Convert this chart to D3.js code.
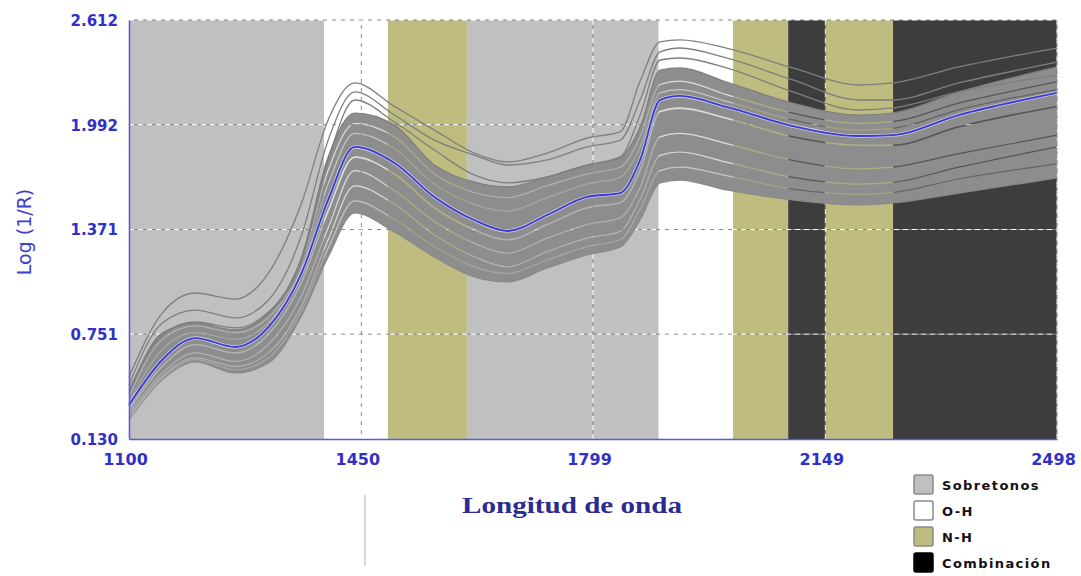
<!DOCTYPE html>
<html><head><meta charset="utf-8">
<script src="https://cdn.jsdelivr.net/npm/d3@7"></script>
<style>body{margin:0;background:#fff;} svg{display:block;}</style>
</head><body>
<svg id="chart" width="1081" height="576"></svg>
<script>
// ---------- data ----------
const wavelengths = [1100,1150,1200,1260,1310,1360,1400,1440,1500,1560,1620,1670,1730,1790,1840,1870,1900,1930,2000,2100,2200,2250,2350,2498];
const meanSpectrum = [0.331,0.598,0.728,0.675,0.793,1.113,1.546,1.860,1.765,1.564,1.427,1.362,1.457,1.564,1.587,1.783,2.138,2.162,2.097,1.984,1.925,1.930,2.049,2.180];
const bandUpper = [0.402,0.758,0.817,0.776,0.876,1.208,1.800,2.061,1.990,1.753,1.652,1.623,1.682,1.753,1.795,1.978,2.316,2.328,2.245,2.120,2.049,2.061,2.186,2.334];
const bandLower = [0.243,0.480,0.586,0.521,0.580,0.860,1.208,1.469,1.356,1.208,1.090,1.060,1.143,1.220,1.267,1.427,1.647,1.664,1.605,1.546,1.516,1.528,1.587,1.676];
const outlierA = [0.497,0.876,0.995,0.959,1.113,1.528,2.020,2.239,2.100,1.960,1.824,1.771,1.824,1.913,1.949,2.250,2.482,2.494,2.446,2.328,2.227,2.239,2.334,2.446];
const outlierB = [0.450,0.817,0.894,0.847,0.953,1.338,1.900,2.186,2.049,1.900,1.812,1.753,1.783,1.860,1.900,2.138,2.423,2.446,2.387,2.257,2.138,2.138,2.239,2.363];
const outlierC = [0.420,0.746,0.823,0.788,0.882,1.179,1.783,2.138,2.008,1.842,1.694,1.647,1.682,1.753,1.801,2.049,2.375,2.387,2.328,2.186,2.079,2.091,2.186,2.286];
const gap1 = [0.300,0.560,0.690,0.640,0.750,1.060,1.480,1.800,1.700,1.500,1.370,1.310,1.400,1.500,1.530,1.720,2.070,2.090,2.030,1.920,1.870,1.870,1.980,2.100];
const gap2 = [0.280,0.520,0.640,0.590,0.690,0.980,1.380,1.720,1.600,1.420,1.290,1.230,1.320,1.400,1.440,1.620,1.920,1.940,1.880,1.780,1.730,1.740,1.820,1.930];
const gap3 = [0.260,0.500,0.610,0.560,0.640,0.920,1.310,1.630,1.520,1.340,1.210,1.150,1.240,1.320,1.360,1.550,1.810,1.830,1.770,1.680,1.640,1.650,1.740,1.860];
const gap4 = [0.380,0.720,0.800,0.760,0.850,1.170,1.720,2.000,1.920,1.700,1.590,1.560,1.630,1.700,1.740,1.920,2.230,2.250,2.170,2.060,2.000,2.010,2.120,2.245];
const gap5 = [0.350,0.660,0.760,0.720,0.820,1.140,1.640,1.940,1.850,1.640,1.520,1.480,1.560,1.640,1.680,1.860,2.180,2.200,2.130,2.020,1.960,1.970,2.080,2.200];
const gap6 = [0.250,0.490,0.600,0.540,0.610,0.890,1.260,1.540,1.430,1.270,1.150,1.110,1.190,1.270,1.310,1.490,1.720,1.740,1.690,1.610,1.580,1.590,1.670,1.760];

const regionStart = [1100,1394,1490,1609,1898,2010,2093,2150,2251];
const regionEnd   = [1394,1490,1609,1898,2010,2093,2150,2251,2498];
const regionType  = ["Sobretonos","O-H","N-H","Sobretonos","O-H","N-H","Combinación","N-H","Combinación"];

const legendLabels = ["Sobretonos","O-H","N-H","Combinación"];
const xTicks = [1100,1450,1799,2149,2498];
const yTicks = [0.130,0.751,1.371,1.992,2.612];

// ---------- styles ----------
const regionFill = {"Sobretonos":"#c0c0c0","O-H":"#ffffff","N-H":"#bebc7f","Combinación":"#3d3d3d"};
const legendFill = {"Sobretonos":"#c0c0c0","O-H":"#ffffff","N-H":"#bebc7f","Combinación":"#000000"};
const blue = "#3a3ad2";

const svg = d3.select("#chart");
svg.append("rect").attr("width",1081).attr("height",576).attr("fill","#fff");

const L = 129, R = 1057, T = 20, B = 439;
const x = d3.scaleLinear().domain([1100,2498]).range([L,R]);
const y = d3.scaleLinear().domain([0.130,2.612]).range([B,T]);

// regions
svg.append("g").selectAll("rect").data(regionType).join("rect")
  .attr("x",(d,i)=>x(regionStart[i]))
  .attr("width",(d,i)=>x(regionEnd[i])-x(regionStart[i]))
  .attr("y",T).attr("height",B-T)
  .attr("fill",d=>regionFill[d]);

// grid
const grid = svg.append("g");
const hLines = yTicks.slice(1);
const vLines = xTicks.slice(1);
function dashed(sel){
  sel.clone().attr("stroke","#ffffff").attr("stroke-dasharray","5,4").attr("stroke-dashoffset",0);
  sel.attr("stroke","#8a8a8a").attr("stroke-dasharray","4,5").attr("stroke-dashoffset",-5);
}
hLines.forEach(v=>{
  const ln = grid.append("line").attr("x1",L).attr("x2",R).attr("y1",y(v)).attr("y2",y(v)).attr("stroke-width",1);
  dashed(ln);
});
vLines.forEach(v=>{
  const ln = grid.append("line").attr("x1",x(v)).attr("x2",x(v)).attr("y1",T).attr("y2",B).attr("stroke-width",1);
  dashed(ln);
});

// line / area generators
const line = d3.line().x((d,i)=>x(wavelengths[i])).y(d=>y(d)).curve(d3.curveMonotoneX);
const area = d3.area().x((d,i)=>x(wavelengths[i])).y0((d,i)=>y(bandLower[i])).y1(d=>y(d)).curve(d3.curveMonotoneX);

// mask for gaps in the dense band
const defs = svg.append("defs");
const mask = defs.append("mask").attr("id","gaps").attr("maskUnits","userSpaceOnUse")
  .attr("x",0).attr("y",0).attr("width",1081).attr("height",576);
mask.append("rect").attr("width",1081).attr("height",576).attr("fill","#fff");
[gap1,gap2,gap3,gap4,gap5,gap6].forEach((g,k)=>{
  mask.append("path").attr("d",line(g)).attr("fill","none")
    .attr("stroke","#000").attr("stroke-width",k===0?1.6:1.2).attr("stroke-opacity",k<4?0.7:0.5);
});

const bandG = svg.append("g").attr("mask","url(#gaps)");
bandG.append("path").attr("d",area(bandUpper)).attr("fill","#8d8d8d");
bandG.append("path").attr("d",line(bandUpper)).attr("fill","none").attr("stroke","#7e7e7e").attr("stroke-width",1.2);
bandG.append("path").attr("d",line(bandLower)).attr("fill","none").attr("stroke","#8a8a8a").attr("stroke-width",1.2);

// individual outlying spectra
[outlierA,outlierB,outlierC].forEach(s=>{
  svg.append("path").attr("d",line(s)).attr("fill","none").attr("stroke","#7f7f7f").attr("stroke-width",1.3);
});

// mean spectrum
svg.append("path").attr("d",line(meanSpectrum)).attr("fill","none").attr("stroke","#e8e8ff").attr("stroke-width",3.4).attr("stroke-opacity",0.7);
svg.append("path").attr("d",line(meanSpectrum)).attr("fill","none").attr("stroke",blue).attr("stroke-width",1.8);

// axes
const xAxis = d3.axisBottom(x).tickValues(xTicks).tickSize(0).tickFormat(d3.format("d"));
const yAxis = d3.axisLeft(y).tickValues(yTicks).tickSize(0).tickFormat(d3.format(".3f"));
const gx = svg.append("g").attr("transform",`translate(0,${B})`).call(xAxis);
const gy = svg.append("g").attr("transform",`translate(${L},0)`).call(yAxis);
gx.select(".domain").attr("stroke","#5a5ae0").attr("stroke-width",1.6);
gy.select(".domain").attr("stroke","#5a5ae0").attr("stroke-width",1.6);
gx.selectAll("text").attr("fill","#3030c8").attr("font-family","DejaVu Sans").attr("font-weight","bold")
  .attr("font-size","16px").attr("dy",null).attr("y",26).attr("dx",-4);
gy.selectAll("text").attr("fill","#3030c8").attr("font-family","DejaVu Sans").attr("font-weight","bold")
  .attr("font-size","15px").attr("x",-11).attr("dy","0.36em");
// right border
svg.append("line").attr("x1",R).attr("x2",R).attr("y1",T).attr("y2",B).attr("stroke","#9a9a9a").attr("stroke-dasharray","2,2");

// axis titles
svg.append("text").attr("transform","translate(31,232) rotate(-90)").attr("text-anchor","middle")
  .attr("font-family","DejaVu Sans").attr("font-size","19px").attr("fill","#4040d0").text("Log (1/R)");
svg.append("text").attr("x",572).attr("y",513).attr("text-anchor","middle")
  .attr("font-family","Liberation Serif").attr("font-weight","bold").attr("font-size","23px")
  .attr("textLength",220).attr("lengthAdjust","spacingAndGlyphs")
  .attr("fill","#2b2b8f").text("Longitud de onda");

// stray vertical mark
svg.append("line").attr("x1",365).attr("x2",365).attr("y1",495).attr("y2",566).attr("stroke","#b0b0b0").attr("stroke-width",1);

// legend
const lg = svg.append("g");
legendLabels.forEach((lab,i)=>{
  const yy = 475 + i*26;
  lg.append("rect").attr("x",914).attr("y",yy).attr("width",19).attr("height",19).attr("rx",2)
    .attr("fill",legendFill[lab]).attr("stroke", lab==="Combinación" ? "#000" : "#8a8a8a").attr("stroke-width",1.5);
  lg.append("text").attr("x",942).attr("y",yy+10).attr("dy","0.36em")
    .attr("font-family","DejaVu Sans").attr("font-weight","bold").attr("font-size","13px")
    .attr("letter-spacing","1.4px").attr("fill","#111").text(lab);
});
</script>
</body></html>
